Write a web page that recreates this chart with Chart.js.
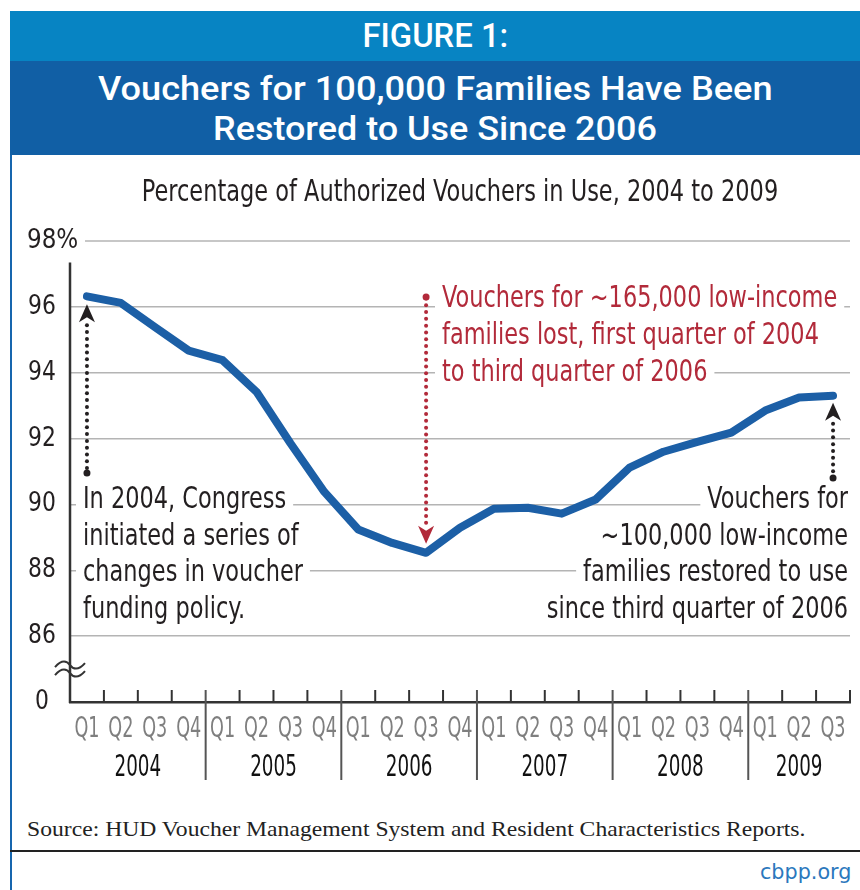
<!DOCTYPE html>
<html>
<head>
<meta charset="utf-8">
<script src="https://cdn.jsdelivr.net/npm/chart.js@4.4.1/dist/chart.umd.min.js"></script>
<style>
  body { margin:0; width:860px; height:890px; background:#fff; position:relative; overflow:hidden;
         font-family:"DejaVu Sans Condensed","DejaVu Sans",sans-serif; }
  .band1 { position:absolute; left:10px; top:11px; width:850px; height:50px; background:#0784c3; color:#fff; text-align:center; }
  .band2 { position:absolute; left:10px; top:61px; width:850px; height:94px; background:#115fa5; color:#fff; }
  .fit { display:inline-block; white-space:nowrap; transform-origin:50% 50%; font-family:Roboto,"DejaVu Sans Condensed",sans-serif; font-weight:500; }
  #figLabel { font-size:33px; line-height:50px; }
  .hl { position:absolute; left:0; width:850px; text-align:center; font-size:34px; line-height:40px; }
  #leftRule { position:absolute; left:10px; top:155px; width:2px; height:735px; background:#1666ae; }
  #chartBox { position:absolute; left:0; top:155px; width:860px; height:650px; }
  #source { position:absolute; left:27px; top:814px; font-family:"Liberation Serif",serif; font-size:22px; color:#222;
            line-height:30px; white-space:nowrap; transform-origin:0 50%; }
  #footRule { position:absolute; left:10px; top:850px; width:850px; height:2px; background:#222; }
  #site { position:absolute; right:9px; top:858px; font-size:22px; color:#2b78bd; line-height:28px;
          white-space:nowrap; transform-origin:100% 50%; }
</style>
</head>
<body>
<div class="band1"><span id="figLabel" class="fit">FIGURE 1:</span></div>
<div class="band2">
  <div class="hl" style="top:7px"><span id="hl1" class="fit">Vouchers for 100,000 Families Have Been</span></div>
  <div class="hl" style="top:47px"><span id="hl2" class="fit">Restored to Use Since 2006</span></div>
</div>
<div id="leftRule"></div>
<div id="chartBox"><canvas id="chart" width="860" height="650"></canvas></div>
<div id="source">Source: HUD Voucher Management System and Resident Characteristics Reports.</div>
<div id="footRule"></div>
<div id="site">cbpp.org</div>

<script>
// data
const quarterLabels = ['Q1','Q2','Q3','Q4', 'Q1','Q2','Q3','Q4', 'Q1','Q2','Q3','Q4',
                       'Q1','Q2','Q3','Q4', 'Q1','Q2','Q3','Q4', 'Q1','Q2','Q3'];
const yearLabels = ['2004','2005','2006','2007','2008','2009'];
const pctInUse = [96.32, 96.12, 95.39, 94.67, 94.38, 93.42, 91.86, 90.38, 89.24, 88.83, 88.53, 89.29,
                  89.87, 89.9, 89.72, 90.15, 91.12, 91.6, 91.9, 92.18, 92.85, 93.25, 93.3];
const yTicks = [84, 86, 88, 90, 92, 94, 96, 98];   // 84 stands for the broken-off 0

const chartTitle = 'Percentage of Authorized Vouchers in Use, 2004 to 2009';
const noteLeft = ['In 2004, Congress', 'initiated a series of', 'changes in voucher', 'funding policy.'];
const noteLost = ['Vouchers for ~165,000 low-income', 'families lost, first quarter of 2004', 'to third quarter of 2006'];
const noteRestored = ['Vouchers for', '~100,000 low-income', 'families restored to use', 'since third quarter of 2006'];

const FONT = '"DejaVu Sans Condensed","DejaVu Sans",sans-serif';
const LINE_BLUE = '#1c5fa6';
const RED = '#b22a3a';
const INK = '#231f20';
const GRID = '#b4b4b4';

function fitWidth(id, target) {
    const el = document.getElementById(id);
    el.style.transform = 'scaleX(' + (target / el.offsetWidth) + ')';
}
fitWidth('figLabel', 146);
fitWidth('hl1', 675);
fitWidth('hl2', 444);
fitWidth('source', 778);
fitWidth('site', 91);

function seg(ctx, x1, y1, x2, y2, color, w) {
    ctx.beginPath();
    ctx.moveTo(x1, y1);
    ctx.lineTo(x2, y2);
    ctx.strokeStyle = color;
    ctx.lineWidth = w;
    ctx.stroke();
}

// text squeezed horizontally by k, optional white box behind it
function say(ctx, text, x, y, align, k, color, box) {
    const w = ctx.measureText(text).width * k;
    const x0 = align === 'right' ? x - w : (align === 'center' ? x - w / 2 : x);
    if (box) {
        ctx.fillStyle = '#fff';
        ctx.fillRect(x0 - 7, y - 16, w + 14, 32);
    }
    ctx.save();
    ctx.translate(x0, y);
    ctx.scale(k, 1);
    ctx.textAlign = 'left';
    ctx.textBaseline = 'middle';
    ctx.fillStyle = color;
    ctx.fillText(text, 0, 0);
    ctx.restore();
}

// dotted arrow: tip at tipY, dots run to endY, head points toward tip
function dottedArrow(ctx, x, tipY, endY, color) {
    const s = endY > tipY ? 1 : -1;
    const L = 18, W = 8, notch = 5;
    ctx.fillStyle = color;
    ctx.beginPath();
    ctx.moveTo(x, tipY);
    ctx.lineTo(x + W, tipY + s * L);
    ctx.lineTo(x, tipY + s * (L - notch));
    ctx.lineTo(x - W, tipY + s * L);
    ctx.closePath();
    ctx.fill();
    const start = tipY + s * (L + 3);
    const n = Math.floor(Math.abs(endY - start) / 6.8);
    for (let i = 0; i <= n; i++) {
        ctx.beginPath();
        ctx.arc(x, start + s * i * 6.8, 2, 0, Math.PI * 2);
        ctx.fill();
    }
    ctx.beginPath();
    ctx.arc(x, endY, 3.5, 0, Math.PI * 2);
    ctx.fill();
}

const decor = {
    id: 'decor',
    beforeDatasetsDraw(chart) {
        const { ctx, chartArea: a, scales: { x, y } } = chart;
        ctx.save();

        ctx.font = '30px ' + FONT;
        say(ctx, chartTitle, 460, 38, 'center', 0.833, INK, false);

        // top gridline starts after the 98% label, axis starts below it
        const y98 = y.getPixelForValue(98);
        seg(ctx, 85, y98, a.right, y98, GRID, 1.5);
        seg(ctx, a.left, y.getPixelForValue(97.35), a.left, a.bottom + 1, '#333', 2.5);

        // y labels
        ctx.font = '27px ' + FONT;
        yTicks.forEach(v => {
            const py = y.getPixelForValue(v);
            if (v === 98) say(ctx, '98%', 27, py, 'left', 0.95, INK, false);
            else say(ctx, v === 84 ? '0' : String(v), 42, py, 'center', 0.9, INK, false);
        });

        // axis break
        const yb = y.getPixelForValue(85);
        ctx.strokeStyle = '#333';
        ctx.lineWidth = 2;
        [-4, 4].forEach(d => {
            const cy = yb + d;
            ctx.beginPath();
            ctx.moveTo(a.left - 15, cy + 2);
            ctx.bezierCurveTo(a.left - 8, cy - 6, a.left - 3, cy - 4, a.left, cy);
            ctx.bezierCurveTo(a.left + 3, cy + 4, a.left + 8, cy + 6, a.left + 15, cy - 2);
            ctx.stroke();
        });

        // quarter ticks and year separators
        const step = x.getPixelForValue(1) - x.getPixelForValue(0);
        for (let i = 1; i <= quarterLabels.length; i++) {
            const bx = x.getPixelForValue(i - 1) + step / 2;
            const yearEdge = i % 4 === 0 && i < quarterLabels.length;
            seg(ctx, bx, a.bottom - 12, bx, yearEdge ? a.bottom + 78 : a.bottom, yearEdge ? '#555' : '#333', 2);
        }

        ctx.font = '28px ' + FONT;
        quarterLabels.forEach((q, i) => say(ctx, q, x.getPixelForValue(i), a.bottom + 28, 'center', 0.7, '#7f7f7f', false));

        ctx.font = '30px ' + FONT;
        yearLabels.forEach((yr, k) => {
            const first = 4 * k;
            const last = Math.min(4 * k + 3, quarterLabels.length - 1);
            const cx = (x.getPixelForValue(first) + x.getPixelForValue(last)) / 2;
            say(ctx, yr, cx, a.bottom + 66, 'center', 0.68, '#111', false);
        });

        ctx.font = '31px ' + FONT;
        noteLeft.forEach((t, i) => say(ctx, t, 83, 345 + i * 36.5, 'left', 0.805, INK, true));
        noteRestored.forEach((t, i) => say(ctx, t, 848, 345 + i * 36.5, 'right', 0.805, INK, true));
        noteLost.forEach((t, i) => say(ctx, t, 442, 144 + i * 37, 'left', 0.805, RED, true));

        ctx.restore();
    },
    afterDatasetsDraw(chart) {
        const { ctx, scales: { x, y } } = chart;
        const last = pctInUse.length - 1;
        ctx.save();
        dottedArrow(ctx, x.getPixelForValue(0), y.getPixelForValue(pctInUse[0]) + 8, 318, INK);
        dottedArrow(ctx, x.getPixelForValue(last), y.getPixelForValue(pctInUse[last]) + 7, 323, INK);
        dottedArrow(ctx, x.getPixelForValue(10), y.getPixelForValue(pctInUse[10]) - 9, 142, RED);
        ctx.restore();
    }
};

new Chart(document.getElementById('chart'), {
    type: 'line',
    data: {
        labels: quarterLabels,
        datasets: [{
            data: pctInUse,
            borderColor: LINE_BLUE,
            borderWidth: 8,
            borderJoinStyle: 'round',
            borderCapStyle: 'round',
            pointRadius: 0,
            tension: 0,
            fill: false
        }]
    },
    options: {
        responsive: false,
        animation: false,
        devicePixelRatio: 1,
        layout: { padding: { top: 86, right: 10, left: 27, bottom: 0 } },
        plugins: { legend: { display: false }, tooltip: { enabled: false } },
        scales: {
            x: {
                offset: true,
                grid: { display: false, drawTicks: false },
                border: { display: true, color: '#333', width: 2.5 },
                ticks: { display: false, autoSkip: false },
                afterFit: s => { s.height = 103; }
            },
            y: {
                min: yTicks[0],
                max: yTicks[yTicks.length - 1],
                afterBuildTicks: s => { s.ticks = yTicks.map(v => ({ value: v })); },
                ticks: { display: false },
                grid: {
                    color: c => (c.tick && (c.tick.value === 84 || c.tick.value === 98)) ? 'rgba(0,0,0,0)' : GRID,
                    lineWidth: 1.5,
                    drawTicks: false
                },
                border: { display: false },
                afterFit: s => { s.width = 43; }
            }
        }
    },
    plugins: [decor]
});
</script>
</body>
</html>
